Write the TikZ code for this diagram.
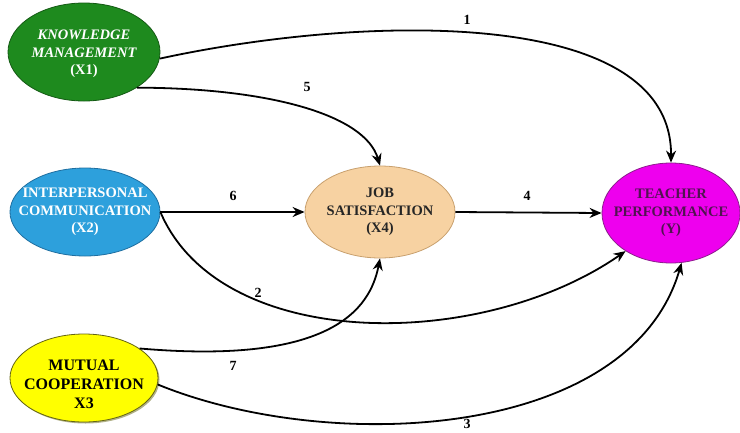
\documentclass[tikz,border=0pt]{standalone}
\usepackage{fontspec}
\setmainfont{Liberation Serif}
\usetikzlibrary{arrows.meta,shapes.geometric,shadows}
\definecolor{kmfill}{RGB}{30,138,30}
\definecolor{kmdraw}{RGB}{20,90,20}
\definecolor{icfill}{RGB}{45,160,220}
\definecolor{icdraw}{RGB}{30,110,160}
\definecolor{mcfill}{RGB}{255,255,0}
\definecolor{mcdraw}{RGB}{100,100,20}
\definecolor{jsfill}{RGB}{247,210,162}
\definecolor{jsdraw}{RGB}{200,160,110}
\definecolor{tpfill}{RGB}{238,0,238}
\definecolor{tpdraw}{RGB}{140,30,140}
\definecolor{tptext}{RGB}{80,20,80}
\tikzset{
  var/.style={ellipse, inner sep=0pt, line width=0.8pt},
  vtext/.style={align=center, inner sep=0pt, font=\fontsize{14.5}{17.5}\selectfont\bfseries},
  conn/.style={line width=1.8pt, -{Stealth[length=12pt,width=10pt]}},
  num/.style={font=\fontsize{14}{16}\selectfont\bfseries, inner sep=0pt}
}
\begin{document}
\begin{tikzpicture}[x=1pt,y=-1pt]
\useasboundingbox (0,0) rectangle (740,432);
\node[var, fill=kmfill, draw=kmdraw, minimum width=152pt, minimum height=98pt] (KM) at (84,52) {};
\node[vtext, text=white, font=\fontsize{14.5}{17.5}\selectfont\bfseries\itshape] (KMt) at ([yshift=-2pt]KM.center)
  {KNOWLEDGE\\MANAGEMENT\\\upshape(X1)};
\node[var, fill=icfill, draw=icdraw, minimum width=150pt, minimum height=88pt] (IC) at (85,212) {};
\node[vtext, text=white] (ICt) at (IC.center) {INTERPERSONAL\\COMMUNICATION\\(X2)};
\node[var, fill=mcfill, draw=mcdraw, minimum width=148pt, minimum height=88pt,
  drop shadow={shadow xshift=1.5pt, shadow yshift=-1.5pt, fill=mcdraw, opacity=0.5}] (MC) at (84,378) {};
\node[vtext, text=black, font=\fontsize{16}{19}\selectfont\bfseries] (MCt) at ([yshift=-6pt]MC.center)
  {MUTUAL\\COOPERATION\\X3};
\node[var, fill=jsfill, draw=jsdraw, minimum width=150pt, minimum height=92pt] (JS) at (380,212) {};
\node[vtext, text=black!85] (JSt) at (JS.center) {JOB\\SATISFACTION\\(X4)};
\node[var, fill=tpfill, draw=tpdraw, minimum width=138pt, minimum height=100pt] (TP) at (671,213) {};
\node[vtext, text=tptext] (TPt) at (TP.center) {TEACHER\\PERFORMANCE\\(Y)};

\draw[conn] (KM.-5) .. controls (360,15) and (672,5) .. (TP.north);
\draw[conn] (KM.-34) .. controls (270,88) and (365,115) .. (JS.north);
\draw[conn] (IC.east) -- (JS.west);
\draw[conn] (JS.east) -- (TP.west);
\draw[conn] (IC.east) .. controls (220,352) and (480,352) .. (TP.-140);
\draw[conn] (MC.28) .. controls (330,365) and (370,310) .. (JS.south);
\draw[conn] (MC.-5) .. controls (330,455) and (630,440) .. (TP.-78);

\node[num] (n1) at (467,20) {1};
\node[num] (n5) at (307,87) {5};
\node[num] (n6) at (233,196) {6};
\node[num] (n4) at (527,196) {4};
\node[num] (n2) at (258,293) {2};
\node[num] (n7) at (233,366) {7};
\node[num] (n3) at (467,424) {3};
\end{tikzpicture}
\end{document}
